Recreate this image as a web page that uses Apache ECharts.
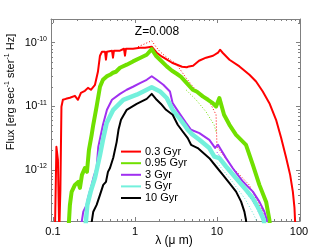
<!DOCTYPE html>
<html><head><meta charset="utf-8">
<script src="https://cdn.jsdelivr.net/npm/echarts@6/dist/echarts.min.js"></script>
<style>html,body{margin:0;padding:0;background:#fff}#c{width:332px;height:250px}</style>
</head><body><div id="c"></div>
<script>
// ---- data: [wavelength (micron), flux] ----
const red03 = [[0.1055,1e-13],[0.110,2.30e-12],[0.1148,1.44e-12],[0.119,1e-13],[0.123,4.84e-13],[0.1267,9.82e-12],[0.132,1.265e-11],[0.1438,1.31e-11],[0.1607,1.36e-11],[0.185,1.46e-11],[0.2014,1.265e-11],[0.219,1.63e-11],[0.245,1.75e-11],[0.267,1.95e-11],[0.290,1.82e-11],[0.325,2.18e-11],[0.353,3.49e-11],[0.374,6.24e-11],[0.3955,7.22e-11],[0.4305,7.22e-11],[0.4425,5.40e-11],[0.455,7.22e-11],[0.524,7.48e-11],[0.539,5.81e-11],[0.554,7.48e-11],[0.656,7.48e-11],[0.734,8.04e-11],[0.755,6.24e-11],[0.776,8.04e-11],[0.945,8.04e-11],[1.151,8.34e-11],[1.325,8.34e-11],[1.60,8.65e-11],[1.84,6.96e-11],[2.138,6.02e-11],[2.46,5.40e-11],[2.83,4.84e-11],[3.26,4.51e-11],[3.75,4.19e-11],[4.28,4.11e-11],[4.56,4.24e-11],[5.11,4.35e-11],[6.04,5.21e-11],[7.36,5.81e-11],[8.96,6.24e-11],[10.3,6.96e-11],[10.9,7.76e-11],[11.8,6.89e-11],[14.2,5.40e-11],[18.8,4.24e-11],[24.9,3.13e-11],[30.0,2.46e-11],[36.2,1.71e-11],[43.6,1.12e-11],[52.6,6.12e-12],[60.6,3.19e-12],[69.8,1.55e-12],[78.1,8.34e-13],[84.3,4.51e-13],[88.2,2.52e-13],[91.2,1e-13]];
const green095 = [[0.1535,1e-13],[0.1607,2.81e-13],[0.1687,4.51e-13],[0.185,5.81e-13],[0.203,6.47e-13],[0.213,5.21e-13],[0.2254,8.34e-13],[0.245,1.07e-12],[0.2594,9.31e-13],[0.2744,2.07e-12],[0.296,3.56e-12],[0.3097,5.12e-12],[0.3405,9.93e-12],[0.374,2.03e-11],[0.4066,2.61e-11],[0.451,2.95e-11],[0.4955,3.13e-11],[0.5387,3.37e-11],[0.586,3.49e-11],[0.656,4.04e-11],[0.793,4.51e-11],[0.945,5.08e-11],[1.151,5.74e-11],[1.39,6.47e-11],[1.60,7.90e-11],[1.80,6.24e-11],[2.02,5.40e-11],[2.44,4.24e-11],[2.83,3.62e-11],[3.23,3.25e-11],[3.65,2.91e-11],[4.28,2.32e-11],[5.06,1.82e-11],[5.71,1.69e-11],[6.71,1.43e-11],[7.78,1.265e-11],[8.89,1.12e-11],[9.75,9.93e-12],[10.7,1.35e-11],[12.2,7.35e-12],[14.2,5.12e-12],[17.1,3.56e-12],[22.6,2.48e-12],[27.4,1.20e-12],[32.9,5.81e-13],[39.8,3.13e-13],[43.6,1.63e-13],[45.1,1e-13]];
const purple3 = [[0.213,1e-13],[0.234,2.20e-13],[0.257,2.81e-13],[0.267,3.62e-13],[0.296,5.81e-13],[0.3157,8.05e-13],[0.3405,1.07e-12],[0.3565,2.30e-12],[0.4066,5.12e-12],[0.455,8.81e-12],[0.524,1.265e-11],[0.656,1.57e-11],[0.793,1.82e-11],[0.945,2.03e-11],[1.151,2.32e-11],[1.39,2.61e-11],[1.60,2.97e-11],[1.84,2.61e-11],[2.216,2.18e-11],[2.67,1.71e-11],[2.88,1.12e-11],[3.47,7.82e-12],[4.19,5.50e-12],[4.83,4.27e-12],[6.10,3.78e-12],[8.07,2.97e-12],[9.48,2.22e-12],[10.3,2.48e-12],[11.2,2.07e-12],[12.9,1.53e-12],[15.6,1.06e-12],[20.7,6.55e-13],[27.4,4.55e-13],[32.9,3.17e-13],[37.9,2.20e-13],[40.5,1.63e-13],[41.5,1e-13]];
const cyan5 = [[0.245,1e-13],[0.262,2.81e-13],[0.288,4.55e-13],[0.325,7.48e-13],[0.374,1.72e-12],[0.4066,2.97e-12],[0.451,5.44e-12],[0.543,8.81e-12],[0.719,1.265e-11],[1.049,1.52e-11],[1.262,1.71e-11],[1.60,1.99e-11],[2.02,1.71e-11],[2.44,1.35e-11],[2.88,8.81e-12],[3.47,6.52e-12],[4.00,5.12e-12],[4.40,4.27e-12],[5.06,3.56e-12],[6.10,2.97e-12],[8.07,2.20e-12],[9.29,1.62e-12],[10.7,1.53e-12],[12.9,1.13e-12],[17.1,7.40e-13],[22.6,4.84e-13],[27.4,3.58e-13],[32.9,2.34e-13],[37.3,1.63e-13],[38.7,1e-13]];
const black10 = [[0.2823,1e-13],[0.3097,2.20e-13],[0.3405,2.81e-13],[0.374,4.04e-13],[0.410,5.81e-13],[0.4425,6.47e-13],[0.468,9.31e-13],[0.4955,1.07e-12],[0.543,1.55e-12],[0.598,2.76e-12],[0.629,4.27e-12],[0.675,6.12e-12],[0.793,8.81e-12],[1.049,1.09e-11],[1.39,1.31e-11],[1.60,1.57e-11],[1.84,1.265e-11],[2.077,1.09e-11],[2.39,8.81e-12],[2.88,7.35e-12],[3.32,5.12e-12],[3.82,4.01e-12],[4.40,3.16e-12],[4.83,2.48e-12],[5.83,2.20e-12],[8.07,1.53e-12],[9.75,1.13e-12],[11.8,8.34e-13],[14.2,6.18e-13],[17.1,4.55e-13],[19.7,3.17e-13],[21.6,2.20e-13],[22.6,1.63e-13],[23.3,1e-13]];
const red03Alt = [[1.088,8.65e-11],[1.325,9.64e-11],[1.60,1.075e-10],[1.80,8.65e-11],[2.02,7.22e-11],[2.39,6.02e-11],[3.17,4.67e-11],[4.19,2.81e-11],[5.11,2.03e-11],[6.76,1.41e-11],[8.24,1.135e-11],[9.75,7.35e-12],[10.0,2.30e-12],[15.7,1.07e-12],[24.7,5.81e-13],[35.5,2.34e-13],[42.1,1.57e-13]];
const green095Alt = [[4.19,1.82e-11],[5.56,1.265e-11],[7.36,8.18e-12],[9.22,5.12e-12],[9.75,3.97e-12]];
const purple3Alt = [[10.0,1.9e-12],[15.0,9.0e-13],[22.0,4.8e-13],[30.0,2.6e-13],[36.0,1.6e-13]];
const cyan5Alt = [[10.0,1.3e-12],[15.0,6.8e-13],[22.0,3.5e-13],[28.0,2.0e-13],[31.0,1.5e-13]];
const seriesNames = ['0.3 Gyr','0.95 Gyr','3 Gyr','5 Gyr','10 Gyr'];
const xMajor = [0.1,1,10,100];
const xMinor = [0.2,0.3,0.4,0.5,0.6,0.7,0.8,0.9,2,3,4,5,6,7,8,9,20,30,40,50,60,70,80,90];
const yMajor = [1e-12,1e-11,1e-10];
const yMinor = [2e-13,3e-13,4e-13,5e-13,6e-13,7e-13,8e-13,9e-13,2e-12,3e-12,4e-12,5e-12,6e-12,7e-12,8e-12,9e-12,2e-11,3e-11,4e-11,5e-11,6e-11,7e-11,8e-11,9e-11,2e-10];
const xRange = [0.0945,103];
const yRange = [1.57e-13,2.36e-10];

const FONT = 'Liberation Sans, Arial, sans-serif';
const frame = '#808080';
function expLabel(v){ const e = Math.round(Math.log10(v)); return '{b|10}{s|' + e + '}'; }
function xAxisDef(pos, ticks, len, showLabel, showLine){
  return {type:'log', logBase:10, position:pos, min:xRange[0], max:xRange[1],
    axisLine:{show:showLine, onZero:false, lineStyle:{color:frame,width:1}},
    axisTick:{show:true, inside:true, length:len, customValues:ticks, lineStyle:{color:frame}},
    axisLabel:{show:showLabel, customValues:xMajor, color:'#000', fontFamily:FONT, fontSize:11, margin:5,
      formatter:v=>String(v)},
    splitLine:{show:false}, minorTick:{show:false}};
}
function yAxisDef(pos, ticks, len, showLabel, showLine){
  return {type:'log', logBase:10, position:pos, min:yRange[0], max:yRange[1],
    axisLine:{show:showLine, onZero:false, lineStyle:{color:frame,width:1}},
    axisTick:{show:true, inside:true, length:len, customValues:ticks, lineStyle:{color:frame}},
    axisLabel:{show:showLabel, customValues:yMajor, color:'#000', fontFamily:FONT, margin:4,
      formatter:expLabel,
      rich:{b:{fontSize:11,fontFamily:FONT,color:'#000'},s:{fontSize:7,fontFamily:FONT,color:'#000',padding:[0,0,7,0]}}},
    splitLine:{show:false}, minorTick:{show:false}};
}
const chart = echarts.init(document.getElementById('c'), null, {renderer:'canvas'});
function solid(name, data, color, width){
  return {name, type:'line', data, xAxisIndex:0, yAxisIndex:0, symbol:'none', clip:true,
    lineStyle:{color, width, join:'round'}, itemStyle:{color}, z:3};
}
function dotted(data, color){
  return {name:'', type:'line', data, xAxisIndex:0, yAxisIndex:0, symbol:'none', clip:true,
    lineStyle:{color, width:1, type:[1,2]}, z:2, silent:true};
}
chart.setOption({
  animation:false,
  grid:{left:51, right:32, top:19, bottom:29, containLabel:false},
  xAxis:[xAxisDef('bottom', xMajor, 4, true, true), xAxisDef('bottom', xMinor, 2, false, false),
         xAxisDef('top', xMajor, 4, false, true), xAxisDef('top', xMinor, 2, false, false)],
  yAxis:[yAxisDef('left', yMajor, 4, true, true), yAxisDef('left', yMinor, 2, false, false),
         yAxisDef('right', yMajor, 4, false, true), yAxisDef('right', yMinor, 2, false, false)],
  legend:{data:seriesNames, orient:'vertical', left:115, top:141, itemWidth:20, itemHeight:14, itemGap:0.4,
    itemStyle:{opacity:0}, textStyle:{fontFamily:FONT, fontSize:11, color:'#000', padding:[0,0,0,-1]}, selectedMode:false},
  series:[
    dotted(red03Alt,'#ff0000'), dotted(green095Alt,'#70e000'), dotted(purple3Alt,'#a030f0'), dotted(cyan5Alt,'#60e0d0'),
    solid(seriesNames[0], red03, '#ff0000', 2),
    solid(seriesNames[1], green095, '#70e000', 4),
    solid(seriesNames[2], purple3, '#a030f0', 2),
    solid(seriesNames[3], cyan5, '#73f0dc', 4.5),
    solid(seriesNames[4], black10, '#000000', 2)
  ],
  graphic:[
    {type:'text', left:'center', x:0, style:{text:'Z=0.008', font:'12px '+FONT, fill:'#000', x:157, y:32, align:'center', verticalAlign:'middle'}, left:null},
    {type:'text', style:{text:'λ (μ m)', font:'12px '+FONT, fill:'#000', x:174, y:241, align:'center', verticalAlign:'middle'}},
    {type:'text', x:11, y:92, rotation:Math.PI/2, style:{text:'Flux [erg sec{s|-1} ster{s|-1} Hz]', font:'11px '+FONT, fill:'#000', align:'center', verticalAlign:'middle',
      rich:{s:{fontSize:7, fontFamily:FONT, padding:[0,0,7,0]}}}}
  ]
});
</script></body></html>
